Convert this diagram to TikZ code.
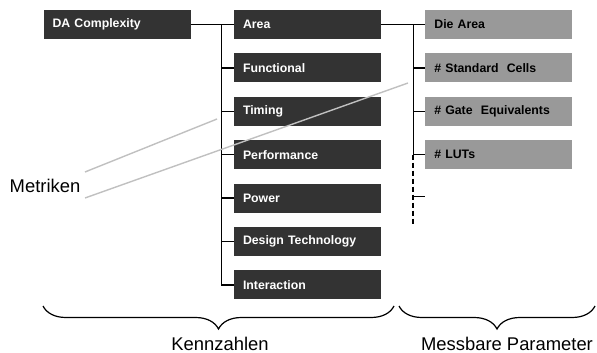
\documentclass[tikz,border=0pt]{standalone}
\usepackage{fontspec}
\setmainfont{Liberation Sans}
\usetikzlibrary{positioning,calc,decorations.pathreplacing}
\definecolor{boxdark}{HTML}{333333}
\definecolor{boxgrey}{HTML}{999999}
\definecolor{metricline}{HTML}{C0C0C0}

\begin{document}
\begin{tikzpicture}[
			x=1pt, y=-1pt,
			box/.style={minimum height=29pt, text width=129pt, inner xsep=9pt, inner ysep=0pt,
				align=left, font={\fontsize{12.3}{14}\selectfont\bfseries}},
			metric/.style={box, fill=boxdark, text=white},
			param/.style={box, fill=boxgrey, text=black},
			tree/.style={line width=1.3pt},
			more/.style={line width=2pt, dash pattern=on 5pt off 3pt},
			pointer/.style={draw=metricline, line width=1.4pt},
			group/.style={line width=1.2pt, decorate, decoration={brace, mirror, amplitude=23pt}},
			caption/.style={font={\fontsize{18.4}{20}\selectfont}}
	]
	\useasboundingbox (0,0) rectangle (597,353);

	% Kennzahlen
	\node[metric] (area) at (307.5,24.5) {Area};
	\node[metric, below=14pt of area] (functional) {Functional};
	\node[metric, below=14pt of functional] (timing) {Timing};
	\node[metric, below=14pt of timing] (performance) {Performance};
	\node[metric, below=14pt of performance] (power) {Power};
	\node[metric, below=14pt of power] (designtech) {Design Technology};
	\node[metric, below=14pt of designtech] (interaction) {Interaction};
	\node[metric, left=43pt of area] (da) {DA Complexity};

	% Messbare Parameter
	\node[param, right=44pt of area] (diearea) {Die Area};
	\node[param, below=14pt of diearea] (cells) {\# Standard~ Cells};
	\node[param, below=14pt of cells] (gates) {\# Gate~ Equivalents};
	\node[param, below=14pt of gates] (luts) {\# LUTs};

	% tree lines
	\coordinate (ktrunk) at ($(area.west)+(-12,0)$);
	\coordinate (ptrunk) at ($(diearea.west)+(-12,0)$);
	\draw[tree] (da.east) -- (area.west);
	\foreach \n in {functional,timing,performance,power,designtech,interaction}
		\draw[tree] (ktrunk) |- (\n.west);
	\draw[tree] (area.east) -- (diearea.west);
	\foreach \n in {cells,gates,luts}
		\draw[tree] (ptrunk) |- (\n.west);
	\coordinate (further) at ($(luts.west)+(0,41.5)$);
	\coordinate (pend) at ($(ptrunk |- luts.west)+(0,71.5)$);
	\draw[more] (ptrunk |- luts.west) -- (pend);
	\draw[tree] (ptrunk |- further) -- (further);

	% Metriken
	\node[caption] (metriken) at (45,186) {Metriken};
	\coordinate (m1) at (85,172);
	\coordinate (m1end) at (217,119);
	\coordinate (m2) at (85,198);
	\coordinate (m2end) at (408,83);
	\draw[pointer] (m1) -- (m1end);
	\draw[pointer] (m2) -- (m2end);

	% braces
	\draw[group] (43,306) -- (394,306);
	\draw[group] (399,306) -- (595,306);
	\node[caption] (kennzahlen) at (220,344) {Kennzahlen};
	\node[caption] (messbar) at (507,344) {Messbare Parameter};
\end{tikzpicture}
\end{document}
